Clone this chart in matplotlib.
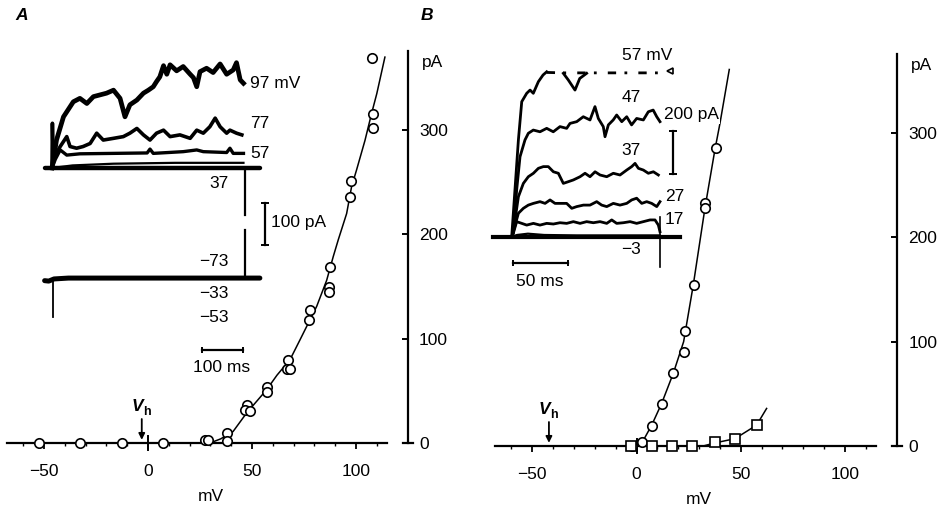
import matplotlib
matplotlib.use("Agg")
import matplotlib.pyplot as plt
from matplotlib.ticker import FixedLocator

plt.rcParams['font.family'] = ['Liberation Sans', 'DejaVu Sans']
FS = 12.5

# ---------------- I-V data ----------------
A_circ_mv = [-52.3, -32.7, -12.6, 7.4, 27.4, 29, 37.8, 37.8, 47.4, 46.6, 49, 57, 57,
             67.5, 66.6, 68.4, 77.9, 77.6, 87.5, 87.2, 87.0, 97.4, 97.1, 108, 108, 107.5]
A_circ_pa = [0, 0, 0, 0, 2.9, 2.9, 9.3, 2.2, 36.4, 31.6, 30.7, 53.4, 48.6,
             80, 70.5, 70.5, 127.5, 118, 169, 150, 145, 251.5, 236, 315, 302, 369]
A_fit_mv = [29.8, 35, 40.9, 47.5, 57, 62, 68.3, 73.1, 77.1, 81.1, 85.9, 89.1, 91.5,
            95.5, 97.9, 100.3, 104.3, 107.5, 110, 113.9]
A_fit_pa = [0, 4, 11, 29, 51, 65, 80, 99, 115, 131, 156, 179, 195, 220, 246, 262,
            290, 316, 335, 370]

B_circ_mv = [-2.3, 2.5, 7.6, 12.4, 17.7, 22.9, 23.3, 27.6, 32.9, 32.9, 38]
B_circ_pa = [0, 4, 19.5, 40, 70, 90, 110, 154, 233, 228, 286]
B_fit_mv = [-1, 2.5, 7.3, 12.1, 17.7, 22.6, 27.2, 32.9, 37.6, 40, 44.5]
B_fit_pa = [0, 2.6, 20, 41, 70, 100, 154, 229, 284, 309, 361]
B_sq_mv = [-2.5, 7.6, 17.2, 26.8, 37.7, 47.2, 57.6]
B_sq_pa = [0, 0, 0, 0, 4, 6.4, 20]
B_sqfit_mv = [32, 37.7, 47.2, 57.6, 62.4]
B_sqfit_pa = [0, 3, 7, 20, 36]

VH_A = -3
VH_B = -42
x_major = [-50, 0, 50, 100]
x_labels = ['\u221250', '0', '50', '100']
y_major = [0, 100, 200, 300]

# ---------------- inset traces (ms, pA) ----------------
A97_t = [0, 11, 28, 52, 68, 85, 101, 117, 133, 150, 166, 178, 190, 207, 223, 235, 247,
         255, 263, 272, 280, 288, 304, 320, 337, 345, 353, 361, 377, 393, 410, 426, 442,
         450, 459, 467]
A97_i = [0, 65, 119, 154, 162, 150, 166, 170, 174, 181, 162, 119, 147, 158, 174, 181,
         189, 201, 212, 238, 218, 240, 226, 236, 218, 210, 189, 224, 232, 222, 242, 218,
         228, 245, 205, 197]
A77_t = [0, 1, 3, 8, 20, 36, 44, 60, 76, 93, 109, 125, 150, 174, 190, 207, 223, 239,
         255, 272, 288, 312, 337, 353, 369, 385, 398, 410, 426, 434, 450, 463]
A77_i = [0, 104, 15, 30, 50, 73, 50, 46, 50, 57, 81, 65, 69, 73, 81, 92, 77, 65, 81,
         88, 73, 77, 69, 88, 81, 96, 116, 96, 81, 88, 81, 77]
A57_t = [0, 8, 20, 36, 68, 150, 232, 239, 247, 320, 353, 369, 426, 434, 442, 467]
A57_i = [0, 20, 42, 30, 33, 34, 35, 44, 34, 38, 42, 38, 36, 46, 34, 34]
A37_t = [0, 50, 150, 300, 467]
A37_i = [0, 6, 10, 12, 12]
A_base_t = [-18, 507]
A_base_i = [0, 0]
A_low_t = [-18, -8, 5, 40, 200, 471, 507]
A_low_i = [-262, -263, -258, -256, -256, -256, -256]
A_low_spike_t = [2, 2]
A_low_spike_i = [-256, -346]
A_tail1_t = [471, 471]
A_tail1_i = [0, -109]
A_tail2_t = [471, 471]
A_tail2_i = [-144, -256]

B57_t = [0, 3, 6.2, 9.3, 13.9, 17, 20, 24.7, 29, 32.4]
B57_i = [0, 217, 450, 628, 667, 682, 667, 721, 752, 767]
B57_dip_t = [47.8, 52.4, 58.6, 63, 69.4]
B57_dip_i = [760, 729, 682, 736, 760]
B57_clip_t = [32.4, 47.8, 69.4, 137]
B57_clip_i = [764, 762, 762, 762]
B47_t = [0, 1.5, 4.6, 7.7, 12.3, 15.4, 20, 26.2, 32.4, 38.5, 44.7, 50.9, 54, 60.2, 66.3,
         72.5, 77.1, 80.2, 84.8, 86.4, 89.5, 94, 97.2, 101.9, 106.5, 111, 115.7, 121.9,
         126.5, 131, 134.3, 137.3]
B47_i = [0, 16, 217, 372, 450, 481, 496, 488, 504, 488, 512, 504, 527, 535, 558, 543,
         605, 550, 512, 465, 520, 543, 566, 535, 558, 520, 550, 543, 581, 589, 558, 535]
B37_t = [0, 1.5, 6.2, 10.8, 15.4, 20.1, 24.7, 29.3, 33.9, 38.6, 43.2, 47.8, 52.5, 57.1,
         63.3, 67.9, 72.5, 77.2, 81.8, 88, 94.1, 100.3, 106.5, 111.1, 114.2, 117.3, 121.9,
         126.5, 131.2, 135.8]
B37_i = [0, 23, 186, 248, 279, 295, 318, 326, 326, 302, 295, 248, 256, 264, 279, 295,
         279, 302, 287, 279, 295, 287, 310, 326, 341, 318, 310, 295, 302, 287]
B27_t = [0, 1.5, 6.2, 10.8, 15.4, 20.1, 26.2, 30.9, 35.5, 40.1, 44.8, 50.9, 55.6, 60.2,
         66.4, 72.5, 78.7, 83.3, 88, 94.1, 100.3, 106.5, 111.1, 115.7, 120.4, 125, 129.6,
         134.3, 137.3]
B27_i = [0, 23, 109, 132, 147, 155, 163, 155, 171, 155, 155, 155, 132, 140, 147, 147,
         163, 147, 140, 155, 147, 155, 171, 179, 155, 163, 155, 140, 163]
B17_t = [0, 1.5, 4.6, 9.3, 13.9, 20.1, 26.2, 32.4, 38.6, 44.7, 50.9, 57.1, 63.3, 69.4,
         75.6, 81.8, 88, 92.6, 97.2, 103.4, 109.6, 115.7, 121.9, 128.1, 132.7, 135.8, 137.3]
B17_i = [0, 16, 70, 62, 54, 62, 54, 62, 59, 65, 62, 70, 62, 70, 65, 70, 62, 78, 62, 65,
         70, 62, 70, 78, 78, 54, 23]
Bm3_t = [0, 5, 15, 30, 60, 100, 137]
Bm3_i = [0, 8, 14, 8, 6, 6, 6]
B_base_t = [-17, 156]
B_base_i = [0, 0]
B_tail_t = [137, 137]
B_tail_i = [90, -140]

W, H = 952, 509
fig = plt.figure(figsize=(W / 100, H / 100), dpi=100)


def px_axes(left, top, right, bottom):
    return fig.add_axes([left / W, 1 - bottom / H, (right - left) / W, (bottom - top) / H])


def ptext(x, y, s, ha='left', va='center', **kw):
    kw.setdefault('fontsize', FS)
    return fig.text(x / W, 1 - y / H, s, ha=ha, va=va, **kw)


def setup_iv(ax):
    ax.set_xlim(-70, 127)
    ax.set_ylim(-5, 380)
    ax.patch.set_visible(False)
    for s in ['top', 'left']:
        ax.spines[s].set_visible(False)
    ax.spines['bottom'].set_position(('data', 0))
    ax.spines['bottom'].set_bounds(-68, 115)
    ax.spines['right'].set_position(('data', 125))
    ax.spines['right'].set_bounds(0, 376)
    for s in ['bottom', 'right']:
        ax.spines[s].set_linewidth(1.6)
    ax.yaxis.tick_right()
    ax.set_yticks(y_major)
    ax.set_yticklabels([str(v) for v in y_major])
    ax.tick_params(axis='y', direction='in', length=4, width=1.4, pad=8, labelsize=FS)
    ax.set_xticks(x_major)
    ax.set_xticklabels(x_labels)
    ax.xaxis.set_minor_locator(FixedLocator([v for v in range(-60, 111, 10) if v not in x_major]))
    ax.tick_params(axis='x', which='major', direction='out', length=4, width=1.3, pad=11,
                   labelsize=FS)
    ax.tick_params(axis='x', which='minor', direction='out', length=2.5, width=1.0)
    ax.plot([0, 0], [-7, 7], color='k', lw=1.4, clip_on=False)
    ax.plot([122.5, 127.5], [0, 0], color='k', lw=1.6, clip_on=False)
    ax.text(30, -51, 'mV', ha='center', va='center', fontsize=FS)
    ax.text(131.5, 365, 'pA', ha='left', va='center', fontsize=FS)


def vh(ax, x):
    ax.annotate('', xy=(x, 3), xytext=(x, 23),
                arrowprops=dict(arrowstyle='-|>', color='k', lw=1.3, mutation_scale=9,
                                shrinkA=0, shrinkB=0))
    ax.text(x - 2.2, 35, 'V', ha='center', va='center', fontsize=FS, style='italic',
            fontweight='bold')
    ax.text(x + 2.6, 30, 'h', ha='center', va='center', fontsize=9, fontweight='bold')


mk = dict(marker='o', ms=6.8, mfc='white', mec='k', mew=1.2, ls='none', zorder=4)

# ---- Panel A ----
axA = px_axes(148 - 70 * 2.08, 443 - 380 * 1.043, 148 + 127 * 2.08, 443 + 5 * 1.043)
setup_iv(axA)
axA.plot(A_fit_mv, A_fit_pa, color='k', lw=1.1, zorder=3)
axA.plot(A_circ_mv, A_circ_pa, **mk)
vh(axA, VH_A)

# ---- Panel B ----
axB = px_axes(636.5 - 70 * 2.085, 446 - 380 * 1.043, 636.5 + 127 * 2.085, 446 + 5 * 1.043)
setup_iv(axB)
axB.plot(B_fit_mv, B_fit_pa, color='k', lw=1.1, zorder=3)
axB.plot(B_sqfit_mv, B_sqfit_pa, color='k', lw=1.1, zorder=3)
axB.plot(B_circ_mv, B_circ_pa, **mk)
axB.plot(B_sq_mv, B_sq_pa, marker='s', ms=6.8, mfc='white', mec='k', mew=1.2, ls='none',
         zorder=5)
vh(axB, VH_B)

# ---- Inset A ----
sxA, syA = 0.41, 0.43
iA = px_axes(52 - 25 * sxA, 168 - 260 * syA, 52 + 540 * sxA, 168 + 460 * syA)
iA.set_xlim(-25, 540)
iA.set_ylim(-460, 260)
iA.axis('off')
iA.plot(A_base_t, A_base_i, color='k', lw=3.2, solid_capstyle='round')
iA.plot(A37_t, A37_i, color='k', lw=1.6)
iA.plot(A57_t, A57_i, color='k', lw=2.4)
iA.plot(A77_t, A77_i, color='k', lw=2.6)
iA.plot(A97_t, A97_i, color='k', lw=3.4)
iA.plot(A_low_t, A_low_i, color='k', lw=3.6, solid_capstyle='round')
iA.plot(A_low_spike_t, A_low_spike_i, color='k', lw=1.3)
iA.plot(A_tail1_t, A_tail1_i, color='k', lw=1.6)
iA.plot(A_tail2_t, A_tail2_i, color='k', lw=1.6)
iA.plot([366, 466], [-423, -423], color='k', lw=1.6)
iA.plot([366, 466], [-423, -423], color='k', lw=0, marker='|', ms=5, mew=1.4)
iA.plot([519, 519], [-81, -179], color='k', lw=1.6)
iA.plot([519, 519], [-81, -179], color='k', lw=0, marker='_', ms=6, mew=1.4)

ptext(250, 83, '97 mV')
ptext(250, 124, '77')
ptext(250, 153, '57')
ptext(219, 184, '37', ha='center')
ptext(271, 223, '100 pA')
ptext(214, 261, '\u221273', ha='center')
ptext(214, 293, '\u221233', ha='center')
ptext(214, 318, '\u221253', ha='center')
ptext(222, 368, '100 ms', ha='center')

# ---- Inset B ----
sxB, syB = 1.08, 0.215
iB = px_axes(511.7 - 20 * sxB, 236.7 - 800 * syB, 511.7 + 175 * sxB, 236.7 + 200 * syB)
iB.set_xlim(-20, 175)
iB.set_ylim(-200, 800)
iB.axis('off')
iB.plot(B_base_t, B_base_i, color='k', lw=3.0)
iB.plot(Bm3_t, Bm3_i, color='k', lw=1.6)
iB.plot(B17_t, B17_i, color='k', lw=2.0)
iB.plot(B27_t, B27_i, color='k', lw=2.0)
iB.plot(B37_t, B37_i, color='k', lw=2.0)
iB.plot(B47_t, B47_i, color='k', lw=2.0)
iB.plot(B57_t, B57_i, color='k', lw=2.0)
iB.plot(B57_dip_t, B57_dip_i, color='k', lw=2.0)
iB.plot(B57_clip_t, B57_clip_i, color='k', lw=2.0, dashes=(3, 3, 1, 4))
iB.plot([147], [770], marker='<', ms=5, mfc='white', mec='k', mew=1.2)
iB.plot(B_tail_t, B_tail_i, color='k', lw=1.2)
iB.plot([1.2, 52], [-122, -122], color='k', lw=1.6)
iB.plot([1.2, 52], [-122, -122], color='k', lw=0, marker='|', ms=5, mew=1.4)
iB.plot([149.4, 149.4], [290, 490], color='k', lw=1.6)
iB.plot([149.4, 149.4], [290, 490], color='k', lw=0, marker='_', ms=6, mew=1.4)

ptext(622, 55, '57 mV')
ptext(631, 97, '47', ha='center')
ptext(664, 115, '200 pA', bbox=dict(facecolor='white', edgecolor='none', pad=1))
ptext(631, 151, '37', ha='center')
ptext(665, 197, '27')
ptext(665, 220, '17')
ptext(631, 249, '\u22123', ha='center')
ptext(540, 281, '50 ms', ha='center')

ptext(22, 16, 'A', ha='center', fontweight='bold', style='italic')
ptext(427, 16, 'B', ha='center', fontweight='bold', style='italic')

fig.savefig('out.png', dpi=100)
